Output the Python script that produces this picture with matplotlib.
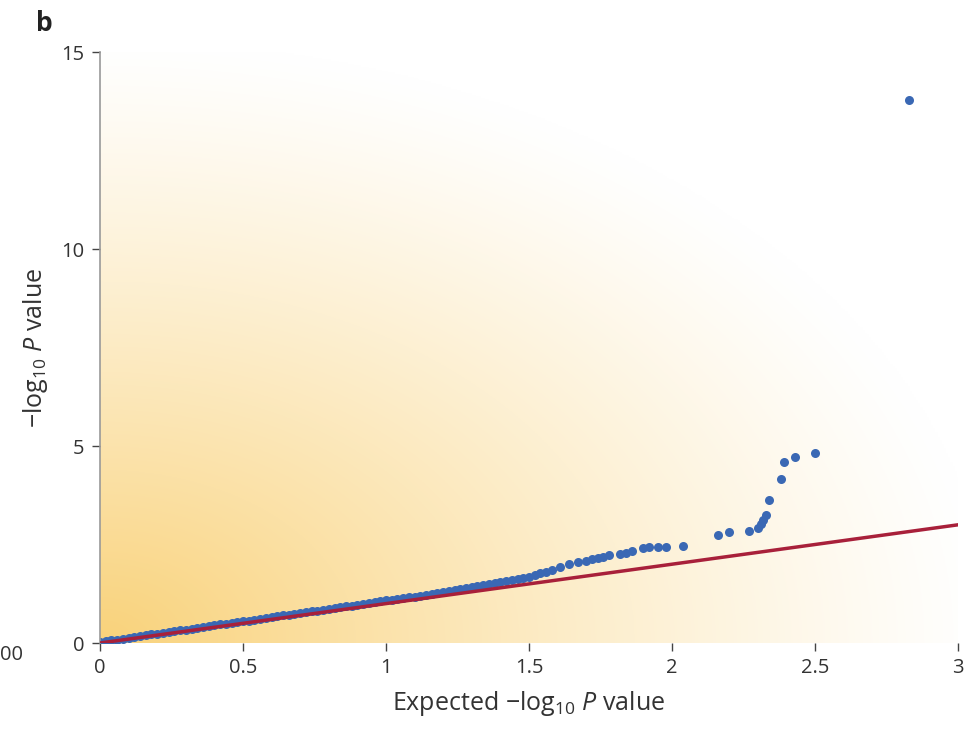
import numpy as np
import matplotlib.pyplot as plt

plt.rcParams['font.family'] = ['Open Sans', 'DejaVu Sans']
plt.rcParams['mathtext.fontset'] = 'custom'
plt.rcParams['mathtext.rm'] = 'Open Sans'
plt.rcParams['mathtext.it'] = 'Open Sans:italic'

# expected vs observed -log10 P
esperado = [0.00, 0.02, 0.04, 0.06, 0.08, 0.10, 0.12, 0.14, 0.16, 0.18,
            0.20, 0.22, 0.24, 0.26, 0.28, 0.30, 0.32, 0.34, 0.36, 0.38,
            0.40, 0.42, 0.44, 0.46, 0.48, 0.50, 0.52, 0.54, 0.56, 0.58,
            0.60, 0.62, 0.64, 0.66, 0.68, 0.70, 0.72, 0.74, 0.76, 0.78,
            0.80, 0.82, 0.84, 0.86, 0.88, 0.90, 0.92, 0.94, 0.96, 0.98,
            1.00, 1.02, 1.04, 1.06, 1.08, 1.10, 1.12, 1.14, 1.16, 1.18,
            1.20, 1.22, 1.24, 1.26, 1.28, 1.30, 1.32, 1.34, 1.36, 1.38,
            1.40, 1.42, 1.44, 1.46, 1.48, 1.50, 1.52, 1.54, 1.56, 1.58,
            1.61, 1.64, 1.67, 1.70, 1.72, 1.74, 1.76, 1.78, 1.82, 1.84,
            1.86, 1.90, 1.92, 1.95, 1.98, 2.04, 2.16, 2.20, 2.27, 2.30,
            2.31, 2.32, 2.33, 2.34, 2.38, 2.39, 2.43, 2.50, 2.83]
observado = [0.02, 0.04, 0.07, 0.08, 0.11, 0.13, 0.15, 0.17, 0.20, 0.22,
             0.24, 0.26, 0.28, 0.30, 0.32, 0.34, 0.36, 0.38, 0.41, 0.43,
             0.45, 0.47, 0.49, 0.51, 0.53, 0.55, 0.57, 0.59, 0.61, 0.63,
             0.66, 0.68, 0.70, 0.72, 0.74, 0.76, 0.78, 0.80, 0.82, 0.84,
             0.87, 0.89, 0.91, 0.93, 0.95, 0.97, 0.99, 1.01, 1.04, 1.06,
             1.08, 1.10, 1.12, 1.14, 1.16, 1.18, 1.20, 1.23, 1.25, 1.27,
             1.30, 1.32, 1.35, 1.37, 1.40, 1.43, 1.45, 1.48, 1.51, 1.53,
             1.56, 1.58, 1.60, 1.62, 1.65, 1.68, 1.72, 1.77, 1.81, 1.86,
             1.93, 2.01, 2.05, 2.08, 2.12, 2.16, 2.18, 2.23, 2.26, 2.29,
             2.33, 2.41, 2.43, 2.44, 2.44, 2.46, 2.74, 2.82, 2.84, 2.92,
             3.02, 3.12, 3.25, 3.63, 4.16, 4.59, 4.72, 4.82, 13.78]

linea_x = [0, 3]
linea_y = [0, 3]

fig = plt.figure(figsize=(9.69, 7.45), dpi=100)
ax = fig.add_axes([0.1032, 0.1369, 0.8854, 0.7933])

# fondo degradado radial desde el origen
nx, ny = 400, 400
gx, gy = np.meshgrid(np.linspace(0, 1, nx), np.linspace(0, 1, ny))
r = np.sqrt(gx ** 2 + (gy / 0.98) ** 2) / 1.04
t = np.clip(1 - r, 0, 1) ** 1.2
c0 = np.array([249, 210, 122]) / 255.0
img = np.ones((ny, nx, 3))
for k in range(3):
    img[:, :, k] = 1 - t * (1 - c0[k])
ax.imshow(img, extent=[0, 3, 0, 15], origin='lower', aspect='auto', zorder=0)

ax.plot(esperado, observado, 'o', color='#3a68b4', markersize=6.5,
        markeredgewidth=0, zorder=2)
ax.plot(linea_x, linea_y, color='#a8203a', linewidth=2.5, zorder=3)

ax.set_xlim(0, 3)
ax.set_ylim(0, 15)
ax.set_xticks([0, 0.5, 1, 1.5, 2, 2.5, 3])
ax.set_xticklabels(['0', '0.5', '1', '1.5', '2', '2.5', '3'])
ax.set_yticks([0, 5, 10, 15])
ax.tick_params(direction='out', length=6, width=1, color='#444444',
               labelsize=14.5, labelcolor='#333333', pad=5)

for s in ['top', 'right', 'bottom']:
    ax.spines[s].set_visible(False)
ax.spines['left'].set_color('#999999')
ax.spines['left'].set_linewidth(1.2)

ax.set_xlabel(r'Expected $-$log$_{10}$ $\mathit{P}$ value', fontsize=18,
              color='#333333', labelpad=8)
ax.set_ylabel(r'$-$log$_{10}$ $\mathit{P}$ value', fontsize=18,
              color='#333333', labelpad=8)

fig.text(0.037, 0.968, 'b', fontsize=19, fontweight='bold', color='#222222',
         ha='left', va='center')
fig.text(0.0, 0.121, '00', fontsize=14.5, color='#333333', ha='left',
         va='center')

fig.savefig('out.png', dpi=100)
